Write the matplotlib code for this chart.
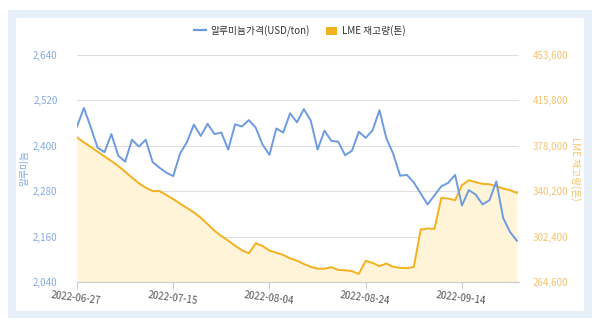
import matplotlib.pyplot as plt
from matplotlib.patches import Rectangle
from matplotlib.lines import Line2D
import pandas as pd

plt.rcParams['font.family'] = ['Noto Sans CJK KR', 'DejaVu Sans']

# 거래일 (LME 휴장일 제외)
dates = pd.bdate_range("2022-06-27", periods=65, freq="C",
                       holidays=["2022-08-29", "2022-09-19"]).strftime("%Y-%m-%d").tolist()

# 알루미늄 가격 (USD/ton)
price = [2451, 2500, 2449, 2395, 2383, 2431, 2374, 2358, 2416, 2398,
         2416, 2357, 2342, 2329, 2320, 2380, 2410, 2456, 2426, 2458,
         2431, 2435, 2390, 2457, 2451, 2468, 2448, 2403, 2376, 2446,
         2435, 2486, 2462, 2497, 2467, 2390, 2440, 2413, 2411, 2375,
         2387, 2437, 2421, 2441, 2494, 2420, 2379, 2321, 2323, 2303,
         2274, 2245, 2269, 2293, 2302, 2323, 2242, 2283, 2271, 2245,
         2256, 2306, 2209, 2172, 2149]

# LME 재고량 (톤)
stock = [385000, 380900, 377000, 373100, 369200, 365300, 361200, 356400, 351500, 346800,
         343100, 340300, 340300, 337000, 333700, 329800, 326200, 322600, 318100, 312800,
         307300, 302900, 299000, 294800, 291000, 288500, 296800, 294600, 290700, 289000,
         287100, 284300, 282300, 279600, 277300, 275700, 275700, 276900, 274600, 274400,
         273600, 271400, 282200, 280500, 277800, 280000, 277200, 276400, 276100, 277200,
         308300, 309100, 308800, 334600, 334100, 332700, 345200, 349400, 347700, 346300,
         346000, 344400, 342400, 341000, 338800]

price_ticks = [2040, 2160, 2280, 2400, 2520, 2640]
stock_ticks = [264600, 302400, 340200, 378000, 415800, 453600]

blue = "#6d9be0"
orange = "#f5b01e"
x = list(range(len(dates)))

fig = plt.figure(figsize=(6, 3.25), dpi=100)

# 바깥 테두리
fig.patches.append(Rectangle((8/600, 7/325), 584/600, 308/325, transform=fig.transFigure,
                             facecolor="#e7eff9", edgecolor="none", zorder=-2))
fig.patches.append(Rectangle((16/600, 14/325), 568/600, 293/325, transform=fig.transFigure,
                             facecolor="white", edgecolor="none", zorder=-1))

ax = fig.add_axes([77/600, 1 - 282/325, 442/600, 227/325])
ax2 = ax.twinx()
ax.set_zorder(2)
ax2.set_zorder(1)
ax.patch.set_visible(False)
ax2.patch.set_visible(False)

# 재고량 (오른쪽 축)
ax2.fill_between(x, stock, stock_ticks[0], color="#fff4d8", linewidth=0)
ax2.plot(x, stock, color=orange, linewidth=1.4)
ax2.set_ylim(stock_ticks[0], stock_ticks[-1])
ax2.set_yticks(stock_ticks)
ax2.set_yticklabels([f"{v:,}" for v in stock_ticks])
ax2.yaxis.grid(True, color="#dedede", linewidth=0.8)
ax2.set_axisbelow(True)
ax2.tick_params(axis="y", length=0, pad=10, labelsize=7, labelcolor="#f5c36e")
ax2.set_ylabel("LME 재고량(톤)", color="#f5c36e", fontsize=7, rotation=-90, va="center")
ax2.yaxis.set_label_coords(1.127, 0.5)

# 가격 (왼쪽 축)
ax.plot(x, price, color=blue, linewidth=1.4)
ax.set_ylim(price_ticks[0], price_ticks[-1])
ax.set_yticks(price_ticks)
ax.set_yticklabels([f"{v:,}" for v in price_ticks])
ax.tick_params(axis="y", length=0, pad=14, labelsize=7, labelcolor="#85a9e2")
ax.set_ylabel("알루미늄", color="#85a9e2", fontsize=7, va="center")
ax.yaxis.set_label_coords(-0.118, 0.5)

ax.set_xlim(0, len(dates) - 0.7)
tick_idx = x[::14]
ax.set_xticks(tick_idx)
ax.set_xticklabels([dates[i] for i in tick_idx], rotation=-7, ha="center",
                   rotation_mode="anchor")
ax.tick_params(axis="x", length=5, color="#cccccc", labelsize=7, labelcolor="#555555", pad=3)

for a in (ax, ax2):
    for s in ("top", "left", "right"):
        a.spines[s].set_visible(False)
    a.spines["bottom"].set_color("#cccccc")

# 범례
handles = [Line2D([0], [0], color=blue, linewidth=1.6),
           Rectangle((0, 0), 1, 1, facecolor=orange, edgecolor="none")]
fig.legend(handles, ["알루미늄가격(USD/ton)", "LME 재고량(톤)"], loc="center",
           bbox_to_anchor=(0.5, 1 - 31/325), ncol=2, frameon=False, fontsize=7,
           handlelength=1.2, handleheight=0.9, columnspacing=1.6, handletextpad=0.5,
           labelcolor="#333333")

plt.savefig("out.png", dpi=100)
